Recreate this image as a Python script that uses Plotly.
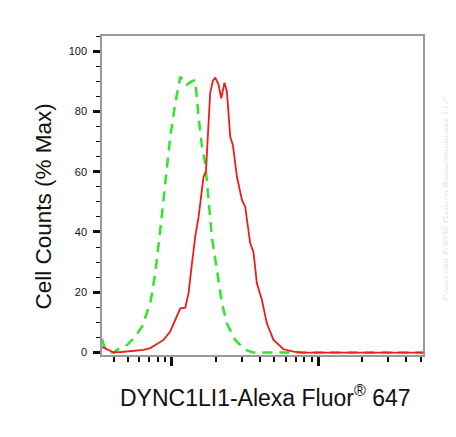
import plotly.graph_objects as go

# red: stained sample, green dashed: control (x = fluorescence intensity, y = % max)
red_x = [333, 360, 399, 450, 493, 560, 640, 711, 749, 800, 877, 973, 1054, 1140,
         1233, 1298, 1370, 1442, 1520, 1643, 1706, 1778, 1824, 1900, 1976, 2080,
         2171, 2285, 2373, 2500, 2608, 2778, 3006, 3165, 3422, 3606, 3802, 4113,
         4448, 4940, 5781, 6761, 7870, 51900]
red_y = [1.8, 1.0, 0.1, 0.2, 0.4, 0.6, 0.9, 1.5, 2.2, 3.0, 4.2, 7.0, 10.8, 14.7,
         14.9, 19.7, 29.6, 38.5, 45.0, 58.3, 60.0, 73.8, 86.0, 90.0, 91.2, 88.9,
         84.3, 89.5, 86.6, 71.6, 68.8, 58.3, 50.6, 48.4, 36.3, 33.3, 23.0, 17.5,
         9.7, 4.2, 1.1, 0.3, 0.0, 0.0]

green_x = [333, 345, 365, 400, 421, 493, 561, 624, 711, 769, 832, 900, 973, 1054,
           1140, 1200, 1260, 1370, 1442, 1520, 1603, 1687, 1778, 1874, 2028, 2193,
           2373, 2703, 3165, 3606, 51900]
green_y = [4.5, 2.0, 0.2, 0.0, 0.9, 2.5, 5.3, 8.6, 16.4, 26.3, 40.7, 57.2, 71.6, 82.7,
           91.5, 90.0, 88.8, 90.0, 90.4, 78.2, 68.3, 62.8, 51.7, 38.4, 27.4, 16.4,
           9.7, 4.2, 0.9, 0.0, 0.0]

x_major = [1000, 10000]
x_minor = [400, 500, 600, 700, 800, 900, 2000, 3000, 4000, 5000, 6000, 7000,
           8000, 9000, 20000, 30000, 40000, 50000]
y_ticks = [0, 20, 40, 60, 80, 100]

fig = go.Figure()
fig.add_trace(go.Scatter(x=green_x, y=green_y, mode='lines',
                         line=dict(color='#2ee62e', width=2.5, dash='10px,7px')))
fig.add_trace(go.Scatter(x=red_x, y=red_y, mode='lines',
                         line=dict(color='#ee1c1c', width=1.8)))

fig.update_xaxes(
    type='log', range=[2.522, 4.715],
    showgrid=False, zeroline=False,
    showline=True, linecolor='#999999', linewidth=1.5, mirror=True,
    tickvals=x_major, showticklabels=False,
    ticks='outside', ticklen=9, tickwidth=2.5, tickcolor='#111111',
    minor=dict(tickvals=x_minor, ticks='outside', ticklen=5, tickwidth=1.5,
               tickcolor='#111111'),
)
fig.update_yaxes(
    range=[-0.8, 105],
    showgrid=False, zeroline=False,
    showline=True, linecolor='#999999', linewidth=1.5, mirror=True,
    tickvals=y_ticks, ticks='outside', ticklen=7, tickwidth=2.5, tickcolor='#111111',
    tickfont=dict(family='Liberation Sans, Arial', size=11, color='#111111'),
    ticklabelstandoff=4,
    minor=dict(dtick=5, ticks='outside', ticklen=4, tickwidth=1.2, tickcolor='#111111'),
)

fig.update_layout(
    width=456, height=437,
    margin=dict(l=94, r=41, t=28, b=90),
    paper_bgcolor='white', plot_bgcolor='white',
    showlegend=False,
    font=dict(family='Liberation Sans, Arial', color='#111111'),
    annotations=[
        dict(text='Cell Counts (% Max)', xref='paper', yref='paper',
             x=-0.181, y=0.465, xanchor='center', yanchor='middle',
             textangle=-90, showarrow=False,
             font=dict(size=22.5, color='#111111')),
        dict(text='DYNC1LI1-Alexa Fluor<sup>®</sup> 647', xref='paper', yref='paper',
             x=0.509, y=-0.13, xanchor='center', yanchor='middle', showarrow=False,
             font=dict(size=23, color='#111111')),
        dict(text='Copyright ©2025 Genuin Biotechnologies LLC', xref='paper', yref='paper',
             x=1.078, y=0.49, xanchor='center', yanchor='middle',
             textangle=-90, showarrow=False,
             font=dict(size=10, color='#e4e4e4')),
    ],
)

fig.write_html('out.html')
